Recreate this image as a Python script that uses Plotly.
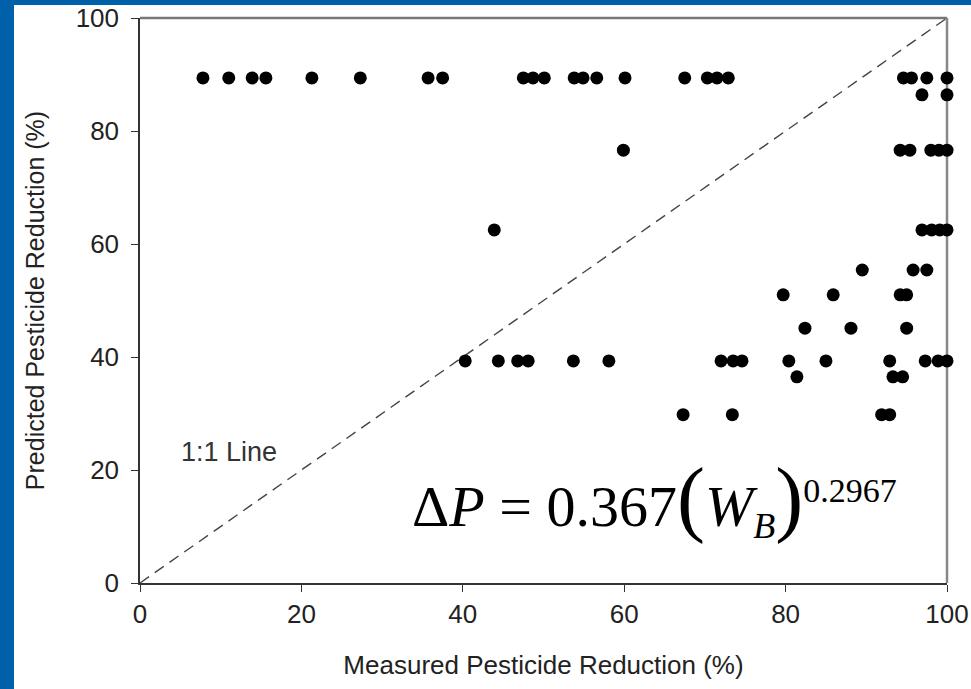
import plotly.graph_objects as go

# Measured vs. predicted pesticide reduction (%), listed row by row of predicted level
measured = [
    7.8, 11.0, 13.9, 15.6, 21.3, 27.3, 35.7, 37.5, 47.5, 48.7, 50.1, 53.8,
    54.9, 56.6, 60.1, 67.5, 70.3, 71.5, 72.9, 94.6, 95.6, 97.5, 100.0,
    96.9, 100.0,
    59.9, 94.2, 95.4, 98.0, 99.0, 100.0,
    43.9, 96.9, 98.1, 99.1, 100.0,
    89.5, 95.8, 97.5,
    79.7, 85.9, 94.2, 95.0,
    82.4, 88.1, 95.0,
    40.3, 44.4, 46.8, 48.1, 53.7, 58.1, 72.0, 73.5, 74.6, 80.4, 85.0, 92.9,
    97.3, 98.9, 100.0,
    81.4, 93.3, 94.5,
    67.3, 73.4, 91.9, 92.9,
]
predicted = (
    [89.4] * 23
    + [86.4] * 2
    + [76.6] * 6
    + [62.5] * 5
    + [55.4] * 3
    + [51.0] * 4
    + [45.1] * 3
    + [39.3] * 15
    + [36.5] * 3
    + [29.8] * 4
)

one_to_one = [0, 100]
tick_vals = [0, 20, 40, 60, 80, 100]

FONT = "Liberation Sans, Arial, sans-serif"
BLUE = "#0060A9"

fig = go.Figure()

# 1:1 reference line
fig.add_trace(go.Scatter(
    x=one_to_one, y=one_to_one, mode="lines",
    line=dict(color="#444444", width=1.4, dash="11px,7px"),
    hoverinfo="skip", showlegend=False, cliponaxis=False,
))

# observations
fig.add_trace(go.Scatter(
    x=measured, y=predicted, mode="markers",
    marker=dict(color="black", size=13, line=dict(width=0)),
    showlegend=False, cliponaxis=False,
))

axis_common = dict(
    range=[0, 100], tickvals=tick_vals, ticks="outside", ticklen=7,
    tickwidth=1.3, tickcolor="#333333", showline=True, linecolor="#333333",
    linewidth=1.5, showgrid=False, zeroline=False, automargin=False,
    tickfont=dict(family=FONT, size=26, color="#222222"),
)

fig.update_layout(
    width=971, height=689,
    margin=dict(l=140, r=24, t=18, b=106),
    paper_bgcolor="white", plot_bgcolor="white",
    xaxis=dict(**axis_common,
               title=dict(text="Measured Pesticide Reduction (%)", standoff=28,
                          font=dict(family=FONT, size=26, color="#222222"))),
    yaxis=dict(**axis_common, ticklabelstandoff=7,
               title=dict(text="Predicted Pesticide Reduction (%)", standoff=24,
                          font=dict(family=FONT, size=25, color="#222222"))),
)

# frame: gray top/right edges of the plot box
fig.add_shape(type="line", xref="paper", yref="paper", x0=0, x1=1, y0=1, y1=1,
              line=dict(color="#777777", width=2.5), layer="below")
fig.add_shape(type="line", xref="paper", yref="paper", x0=1, x1=1, y0=0, y1=1,
              line=dict(color="#888888", width=2.5), layer="below")

# slide border bands (left and top)
pw, ph = 807.0, 565.0
fig.add_shape(type="rect", xref="paper", yref="paper",
              x0=-140 / pw, x1=(14 - 140) / pw, y0=-106 / ph, y1=1 + 18 / ph,
              line=dict(width=0), fillcolor=BLUE, layer="above")
fig.add_shape(type="rect", xref="paper", yref="paper",
              x0=-140 / pw, x1=1 + 24 / pw, y0=(583 - 5) / ph, y1=1 + 18 / ph,
              line=dict(width=0), fillcolor=BLUE, layer="above")

fig.add_annotation(
    x=0.048, y=0.232, xref="paper", yref="paper", xanchor="left", yanchor="middle",
    text="1:1 Line", showarrow=False,
    font=dict(family=FONT, size=27, color="#333333"),
)

fig.add_annotation(
    x=0.335, y=0.15, xref="paper", yref="paper", xanchor="left", yanchor="middle",
    text=("Δ<i>P</i> = 0.367<span style=\"font-size:84px\">(</span><i>W</i>"
          "<sub><span style=\"font-size:36px\"><i>B</i></span></sub>"
          "<span style=\"font-size:84px\">)</span>"
          "<sup><span style=\"font-size:34px\">0.2967</span></sup>"),
    showarrow=False,
    font=dict(family="Liberation Serif, Times New Roman, serif", size=58, color="black"),
)

fig.write_html("out.html")
